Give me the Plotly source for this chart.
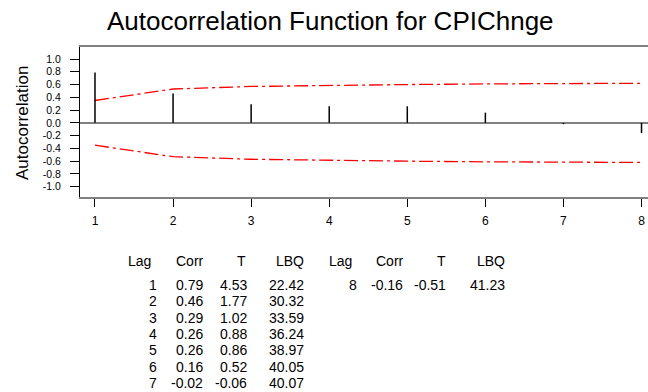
import plotly.graph_objects as go

# ---- data ----
lags = [1, 2, 3, 4, 5, 6, 7, 8]
corr = [0.79, 0.46, 0.29, 0.26, 0.26, 0.16, -0.02, -0.16]
tstat = [4.53, 1.77, 1.02, 0.88, 0.86, 0.52, -0.06, -0.51]
lbq = [22.42, 30.32, 33.59, 36.24, 38.97, 40.05, 40.07, 41.23]
upper_limit = [0.35, 0.53, 0.57, 0.59, 0.60, 0.61, 0.62, 0.62]
lower_limit = [-0.35, -0.53, -0.57, -0.59, -0.60, -0.61, -0.62, -0.62]
ytick_vals = [1.0, 0.8, 0.6, 0.4, 0.2, 0.0, -0.2, -0.4, -0.6, -0.8, -1.0]
ytick_text = ["1.0", "0.8", "0.6", "0.4", "0.2", "0.0", "-0.2", "-0.4", "-0.6", "-0.8", "-1.0"]
title_text = "Autocorrelation Function for CPIChnge"
ytitle_text = "Autocorrelation"
table_headers = ["Lag", "Corr", "T", "LBQ"]

# ---- layout geometry (pixels) ----
W, H = 648, 392
PL, PR, PT, PB = 80, 648, 47, 197
FONT = "Liberation Sans, Arial, Helvetica, sans-serif"


def px_x(px):
    return (px - PL) / (PR - PL)


def px_y(py):
    return (PB - py) / (PB - PT)


fig = go.Figure()

# confidence limits
fig.add_trace(go.Scatter(x=lags, y=upper_limit, mode="lines",
                         line=dict(color="#ff0000", width=1.3, dash="14px,4px,3px,4px"),
                         hoverinfo="skip", showlegend=False))
fig.add_trace(go.Scatter(x=lags, y=lower_limit, mode="lines",
                         line=dict(color="#ff0000", width=1.3, dash="14px,4px,3px,4px"),
                         hoverinfo="skip", showlegend=False))

# spikes
sx, sy = [], []
for lag, r in zip(lags, corr):
    sx += [lag, lag, None]
    sy += [0, r, None]
fig.add_trace(go.Scatter(x=sx, y=sy, mode="lines",
                         line=dict(color="#000000", width=1.5),
                         hoverinfo="skip", showlegend=False))

fig.update_layout(
    width=W, height=H,
    margin=dict(l=PL, r=W - PR, t=PT, b=H - PB, pad=0),
    paper_bgcolor="white", plot_bgcolor="white",
    font=dict(family=FONT, color="#000000"),
    showlegend=False,
)

fig.update_xaxes(
    range=[0.808, 8.083], tickvals=lags, ticktext=[str(v) for v in lags],
    showgrid=False, zeroline=False,
    showline=True, mirror=True, linecolor="#808080", linewidth=1.5,
    ticks="outside", ticklen=8, tickcolor="#000000", tickwidth=1,
    ticklabelstandoff=4,
    tickfont=dict(size=12, family=FONT, color="#000000"),
)
fig.update_yaxes(
    range=[-1.161, 1.188], tickvals=ytick_vals, ticktext=ytick_text,
    showgrid=False, zeroline=True, zerolinecolor="#808080", zerolinewidth=1.5,
    showline=True, mirror=False, linecolor="#000000", linewidth=1,
    ticks="outside", ticklen=9, tickcolor="#000000", tickwidth=1,
    ticklabelstandoff=7,
    tickfont=dict(size=10.5, family=FONT, color="#000000"),
)

# title
fig.add_annotation(text=title_text, xref="paper", yref="paper",
                   x=px_x(330), y=px_y(21), xanchor="center", yanchor="middle",
                   showarrow=False, font=dict(size=26, family=FONT, color="#000000"))
# y axis title
fig.add_annotation(text=ytitle_text, xref="paper", yref="paper",
                   x=px_x(23), y=px_y(123), xanchor="center", yanchor="middle",
                   textangle=-90, showarrow=False,
                   font=dict(size=17, family=FONT, color="#000000"))

# statistics table
TFONT = dict(size=14, family=FONT, color="#000000")
header_y = 260.5
row0_y = 285.0
row_step = 16.3

tables = [
    dict(rows=list(range(0, 7)),
         head_right=[153.3, 206.0, 248.3, 305.7],
         num_right=[159.3, 205.3, 249.0, 305.7]),
    dict(rows=[7],
         head_right=[354.0, 405.7, 448.3, 506.7],
         num_right=[359.3, 405.3, 448.3, 506.7]),
]

for tbl in tables:
    for h, xr in zip(table_headers, tbl["head_right"]):
        fig.add_annotation(text=h, xref="paper", yref="paper",
                           x=px_x(xr), y=px_y(header_y), xanchor="right", yanchor="middle",
                           showarrow=False, font=TFONT)
    for k, i in enumerate(tbl["rows"]):
        yy = row0_y + k * row_step
        vals = [str(lags[i]), f"{corr[i]:.2f}", f"{tstat[i]:.2f}", f"{lbq[i]:.2f}"]
        for v, xr in zip(vals, tbl["num_right"]):
            fig.add_annotation(text=v, xref="paper", yref="paper",
                               x=px_x(xr), y=px_y(yy), xanchor="right", yanchor="middle",
                               showarrow=False, font=TFONT)

fig.write_html(
    "out.html",
    config={"displayModeBar": False},
    post_script="document.body.style.margin='0';document.body.style.padding='0';"
                "document.documentElement.style.overflow='hidden';",
)
